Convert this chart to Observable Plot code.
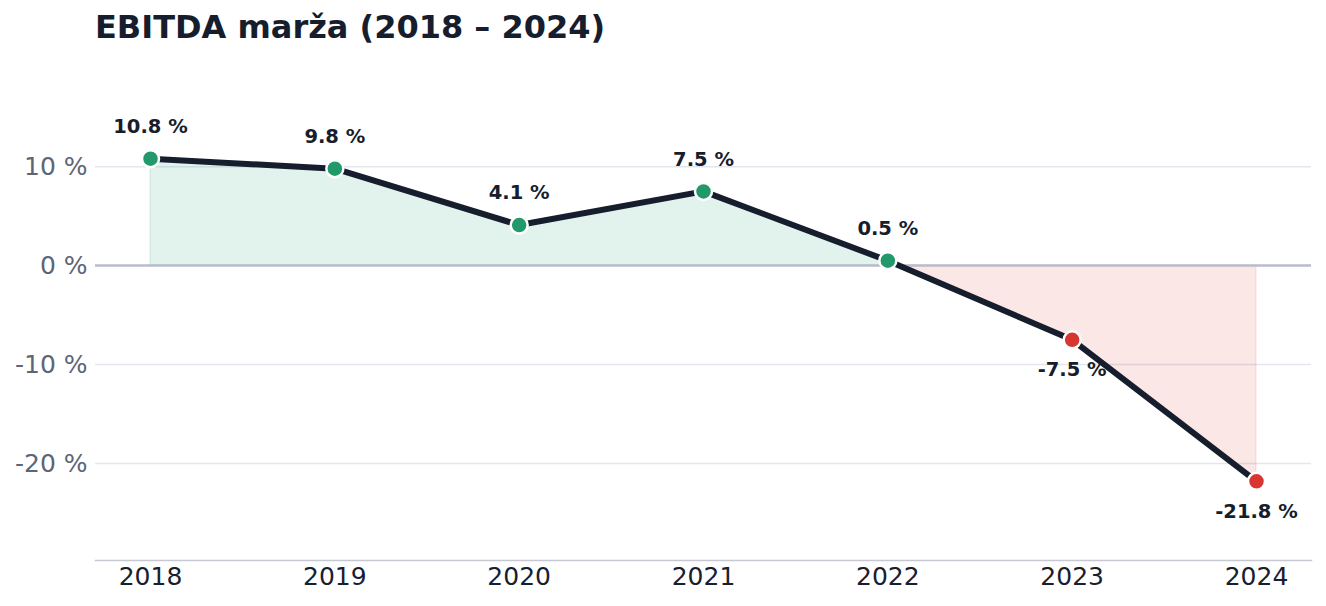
<!DOCTYPE html>
<html>
<head>
<meta charset="utf-8">
<script src="https://cdn.jsdelivr.net/npm/d3@7"></script>
<script src="https://cdn.jsdelivr.net/npm/@observablehq/plot@0.6"></script>
<style>
  html, body { margin: 0; padding: 0; background: #ffffff; }
  body { width: 1326px; height: 606px; overflow: hidden; font-family: "DejaVu Sans", sans-serif; }
  #title {
    box-sizing: border-box; height: 60px; padding: 8px 0 0 95px;
    font: bold 32px/38px "DejaVu Sans", sans-serif; color: #161d2d;
  }
</style>
</head>
<body>
<div id="title">EBITDA marža (2018 – 2024)</div>
<div id="chart"></div>
<script>
// EBITDA margin by year, in percent
const years = [2018, 2019, 2020, 2021, 2022, 2023, 2024];
const margins = [10.8, 9.8, 4.1, 7.5, 0.5, -7.5, -21.8];
const yTicks = [-20, -10, 0, 10];

const rows = years.map((year, i) => ({year, value: margins[i]}));

// split the filled band where the line crosses zero
const positive = [], negative = [];
for (let i = 0; i < rows.length; i++) {
  const r = rows[i];
  (r.value >= 0 ? positive : negative).push(r);
  const n = rows[i + 1];
  if (n && (r.value >= 0) !== (n.value >= 0)) {
    const t = r.value / (r.value - n.value);
    const cross = {year: r.year + t * (n.year - r.year), value: 0};
    positive.push(cross);
    negative.push(cross);
  }
}
positive.sort((a, b) => a.year - b.year);
negative.sort((a, b) => a.year - b.year);

const GREEN = "#22996b";
const RED = "#d83631";
const INK = "#161d2d";
const fmt = v => `${v.toFixed(1)} %`;

const chart = Plot.plot({
  width: 1326,
  height: 546,
  marginTop: 27,
  marginBottom: 46,
  marginLeft: 95,
  marginRight: 15,
  style: {fontFamily: "DejaVu Sans, sans-serif", background: "transparent"},
  x: {type: "linear", domain: [2018, 2024], insetLeft: 55, insetRight: 55},
  y: {domain: [-29.8, 18]},
  marks: [
    Plot.ruleY(yTicks.filter(d => d !== 0), {stroke: "#e4e6ee", strokeWidth: 1.5}),
    Plot.areaY(positive, {x: "year", y1: 0, y2: "value", fill: GREEN, fillOpacity: 0.13,
      stroke: GREEN, strokeOpacity: 0.12, strokeWidth: 1.5}),
    Plot.areaY(negative, {x: "year", y1: 0, y2: "value", fill: RED, fillOpacity: 0.12,
      stroke: RED, strokeOpacity: 0.1, strokeWidth: 1.5}),
    Plot.ruleY([0], {stroke: "#b8bccb", strokeWidth: 2.5}),
    Plot.frame({anchor: "bottom", stroke: "#c6c9d4", strokeWidth: 1.5}),
    Plot.line(rows, {x: "year", y: "value", stroke: INK, strokeWidth: 6,
      strokeLinejoin: "round", strokeLinecap: "round"}),
    Plot.dot(rows, {x: "year", y: "value", r: 8.5, fill: d => d.value >= 0 ? GREEN : RED,
      stroke: "#ffffff", strokeWidth: 2.5}),
    Plot.text(rows.filter(d => d.value >= 0), {x: "year", y: "value", text: d => fmt(d.value),
      dy: -32, fontSize: 19.5, fontWeight: "bold", fill: INK}),
    Plot.text(rows.filter(d => d.value < 0), {x: "year", y: "value", text: d => fmt(d.value),
      dy: 30, fontSize: 19.5, fontWeight: "bold", fill: INK}),
    Plot.axisY(yTicks, {tickSize: 0, tickPadding: 8, tickFormat: d => `${d} %`,
      fontSize: 25, color: "#5d6577", label: null}),
    Plot.axisX(years, {tickSize: 0, tickPadding: 7, tickFormat: d => String(d),
      fontSize: 25, color: "#18202f", label: null})
  ]
});
document.getElementById("chart").append(chart);
</script>
</body>
</html>
